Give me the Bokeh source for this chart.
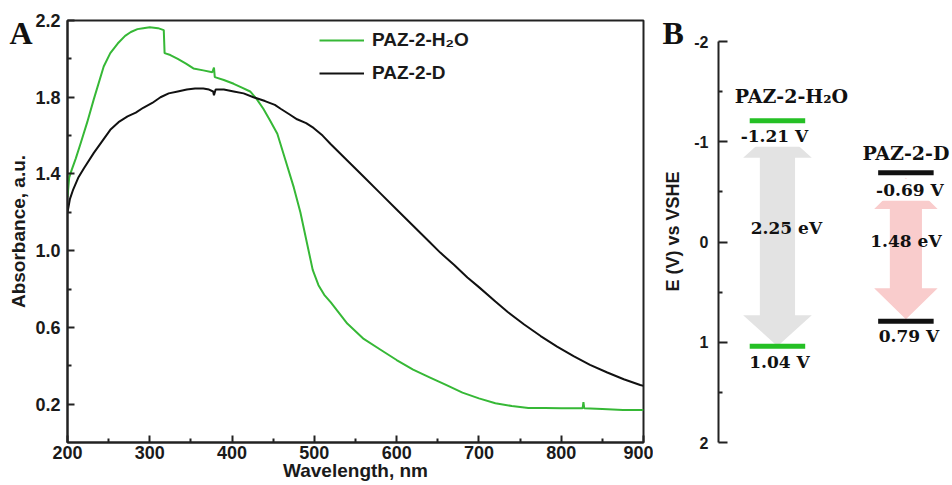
from bokeh.plotting import figure
from bokeh.models import Range1d, FixedTicker, Legend, LegendItem, Label, PrintfTickFormatter
from bokeh.layouts import row
from bokeh.embed import file_html
from bokeh.resources import INLINE

# ---------------- data: panel A (UV-vis absorbance) ----------------
wl_h2o = [200, 202, 205, 210, 216, 224, 232, 244, 252, 261, 270, 277, 285, 292, 300,
          310, 317, 318, 325, 334, 344, 353, 365, 376, 378, 379, 390, 402, 412, 422,
          430, 438, 446, 455, 465, 475, 483, 491, 498, 505, 512, 520, 540, 560, 580,
          600, 620, 640, 660, 680, 700, 720, 740, 760, 780, 800, 826, 827, 828, 850,
          875, 900]
abs_h2o = [1.28, 1.38, 1.42, 1.48, 1.56, 1.67, 1.79, 1.96, 2.03, 2.08, 2.12, 2.14, 2.155, 2.16, 2.165,
           2.16, 2.15, 2.03, 2.02, 2.00, 1.975, 1.95, 1.94, 1.93, 1.955, 1.905, 1.89, 1.87, 1.85, 1.83,
           1.79, 1.74, 1.68, 1.61, 1.47, 1.33, 1.20, 1.04, 0.90, 0.82, 0.77, 0.73, 0.62, 0.54, 0.485,
           0.43, 0.38, 0.34, 0.30, 0.26, 0.23, 0.205, 0.19, 0.18, 0.18, 0.178, 0.178, 0.21, 0.178, 0.175,
           0.17, 0.17]

wl_d = [200, 203, 207, 213, 220, 232, 242, 252, 262, 273, 283, 292, 303, 313, 323,
        334, 345, 355, 365, 372, 377, 378, 380, 390, 402, 414, 426, 440, 452, 459,
        470, 479, 490, 499, 510, 520, 540, 560, 580, 600, 620, 640, 653, 670, 686,
        700, 720, 735, 755, 775, 795, 815, 835, 856, 876, 896, 900]
abs_d = [1.20, 1.27, 1.32, 1.38, 1.43, 1.51, 1.57, 1.63, 1.67, 1.70, 1.72, 1.745, 1.77, 1.80, 1.82,
         1.83, 1.84, 1.845, 1.845, 1.84, 1.83, 1.81, 1.84, 1.84, 1.83, 1.82, 1.80, 1.78, 1.76, 1.74,
         1.71, 1.685, 1.665, 1.64, 1.60, 1.555, 1.47, 1.385, 1.30, 1.215, 1.13, 1.045, 0.99, 0.925, 0.86,
         0.81, 0.735, 0.68, 0.615, 0.555, 0.50, 0.45, 0.405, 0.365, 0.33, 0.30, 0.295]

x_ticks = [200, 300, 400, 500, 600, 700, 800, 900]
x_minor = [250, 350, 450, 550, 650, 750, 850]
y_ticks = [0.2, 0.6, 1.0, 1.4, 1.8, 2.2]
y_minor = [0.4, 0.8, 1.2, 1.6, 2.0]
series_names = ["PAZ-2-H\u2082O", "PAZ-2-D"]

# ---------------- data: panel B (band positions) ----------------
materials = ["PAZ-2-H\u2082O", "PAZ-2-D"]
cb_levels = [-1.21, -0.69]
vb_levels = [1.04, 0.79]
band_gaps = [2.25, 1.48]
e_ticks = [-2, -1, 0, 1, 2]
e_minor = [-1.5, -0.5, 0.5, 1.5]

# ---------------- styles ----------------
SANS = "Liberation Sans"
SERIF = "DejaVu Serif"
LETTER = "Liberation Serif"
INK = "#1a1a1a"
GREEN_LINE = "#36b836"
GREEN_BAR = "#25c025"
ARROW_COLORS = ["#e3e3e3", "#f9cccc"]
BAR_COLORS = [GREEN_BAR, "#111111"]

H = 484
TOP = 20
BOTTOM = 42


def style_axis(ax, tick_size, label_size):
    ax.axis_line_width = 2
    ax.axis_line_color = "#222222"
    ax.major_tick_line_width = 2
    ax.minor_tick_line_width = 2
    ax.major_tick_line_color = "#222222"
    ax.minor_tick_line_color = "#222222"
    ax.major_tick_out = 0
    ax.minor_tick_out = 0
    ax.major_label_text_font = SANS
    ax.major_label_text_font_style = "bold"
    ax.major_label_text_font_size = tick_size
    ax.major_label_text_color = INK
    ax.axis_label_text_font = SANS
    ax.axis_label_text_font_style = "bold"
    ax.axis_label_text_font_size = label_size
    ax.axis_label_text_color = INK


def panel_letter(p, letter, offset):
    p.title.text = letter
    p.title.align = "left"
    p.title.vertical_align = "bottom"
    p.title.offset = offset
    p.title.standoff = -60
    p.title.text_font = LETTER
    p.title.text_font_style = "bold"
    p.title.text_font_size = "32px"
    p.title.text_color = "#111111"


# ================= Panel A =================
pa = figure(width=653, height=H, x_range=Range1d(200, 900), y_range=Range1d(0, 2.2),
            output_backend="svg", toolbar_location=None,
            min_border_left=67, min_border_right=10, min_border_top=TOP, min_border_bottom=BOTTOM)
pa.grid.visible = False
pa.outline_line_color = "#222222"
pa.outline_line_width = 2
pa.outline_line_alpha = 1.0

r_h = pa.line(wl_h2o, abs_h2o, line_color=GREEN_LINE, line_width=2)
r_d = pa.line(wl_d, abs_d, line_color="#111111", line_width=2)

pa.xaxis.ticker = FixedTicker(ticks=x_ticks, minor_ticks=x_minor)
pa.yaxis.ticker = FixedTicker(ticks=y_ticks, minor_ticks=y_minor)
pa.yaxis.formatter = PrintfTickFormatter(format="%.1f")
for ax in (pa.xaxis[0], pa.yaxis[0]):
    style_axis(ax, "18px", "19px")
    ax.major_tick_in = 7
    ax.minor_tick_in = 4
pa.xaxis.axis_label = "Wavelength, nm"
pa.yaxis.axis_label = "Absorbance, a.u."
pa.xaxis.major_label_standoff = 3
pa.xaxis.axis_label_standoff = -2
pa.yaxis.major_label_standoff = 7
pa.yaxis.axis_label_standoff = 3

legend = Legend(items=[LegendItem(label=series_names[0], renderers=[r_h]),
                       LegendItem(label=series_names[1], renderers=[r_d])],
                location=(252, 358), border_line_color=None, background_fill_alpha=0,
                label_text_font=SANS, label_text_font_style="bold", label_text_font_size="19px",
                label_text_color=INK, glyph_width=45, glyph_height=20, label_height=20,
                spacing=11, padding=10, margin=0, label_standoff=8)
pa.add_layout(legend)
panel_letter(pa, "A", -58)

# ================= Panel B =================
pb = figure(width=298, height=H, x_range=Range1d(0.541, 2.355), y_range=Range1d(2.0, -2.21),
            output_backend="svg", toolbar_location=None,
            min_border_left=65, min_border_right=0, min_border_top=TOP, min_border_bottom=BOTTOM)
pb.grid.visible = False
pb.outline_line_color = None
pb.xaxis.visible = False
pb.yaxis.ticker = FixedTicker(ticks=e_ticks, minor_ticks=e_minor)
pb.yaxis.formatter = PrintfTickFormatter(format="%d")
pb.yaxis.bounds = (e_ticks[0], e_ticks[-1])
style_axis(pb.yaxis[0], "16px", "18px")
pb.yaxis.major_tick_in = 9
pb.yaxis.minor_tick_in = 4
pb.yaxis.major_label_standoff = 10
pb.yaxis.axis_label_standoff = 8
pb.yaxis.axis_label = "E (V) vs VSHE"
panel_letter(pb, "B", -56)

centers = [i + 1 for i in range(len(materials))]

# double-headed arrows spanning each band gap
head_len = 0.31
head_half = [0.267, 0.247]
shaft_half = [0.137, 0.125]
top_inset = [0.06, 0.05]
bot_inset = [0.0, 0.02]
xs, ys = [], []
for i, c in enumerate(centers):
    ya = cb_levels[i] + top_inset[i]
    yb = vb_levels[i] - bot_inset[i]
    hw, sw = head_half[i], shaft_half[i]
    xs.append([c, c + hw, c + sw, c + sw, c + hw, c, c - hw, c - sw, c - sw, c - hw])
    ys.append([ya, ya + head_len, ya + head_len, yb - head_len, yb - head_len, yb,
               yb - head_len, yb - head_len, ya + head_len, ya + head_len])
pb.patches(xs, ys, fill_color=ARROW_COLORS, line_color=None)

# band edge bars
bar_half = 0.216
for lv in (cb_levels, vb_levels):
    pb.segment(x0=[c - bar_half for c in centers], x1=[c + bar_half for c in centers],
               y0=lv, y1=lv, line_color=BAR_COLORS, line_width=5)

name_dx = [14, 0]
name_dy = [25, 20]
cb_dx = [-3, 4]
cb_dy = [-15, -17]
vb_dx = [2, 3]
vb_dy = [-16, -15]
gap_dx = [9, 0]
gap_dy = [6, 6]

for i, c in enumerate(centers):
    pb.add_layout(Label(x=c, y=cb_levels[i], text=materials[i], x_offset=name_dx[i], y_offset=name_dy[i],
                        text_align="center", text_baseline="middle", text_font=SERIF,
                        text_font_style="bold", text_font_size="19px", text_color="#111111"))
    pb.add_layout(Label(x=c, y=cb_levels[i], text=f"{cb_levels[i]:.2f} V", x_offset=cb_dx[i],
                        y_offset=cb_dy[i], text_align="center", text_baseline="middle",
                        text_font=SERIF, text_font_style="bold", text_font_size="17px",
                        text_color="#111111", background_fill_color="white", padding=1))
    pb.add_layout(Label(x=c, y=vb_levels[i], text=f"{vb_levels[i]:.2f} V", x_offset=vb_dx[i],
                        y_offset=vb_dy[i], text_align="center", text_baseline="middle",
                        text_font=SERIF, text_font_style="bold", text_font_size="17px",
                        text_color="#111111"))
    pb.add_layout(Label(x=c, y=(cb_levels[i] + vb_levels[i]) / 2, text=f"{band_gaps[i]:.2f} eV",
                        x_offset=gap_dx[i], y_offset=gap_dy[i], text_align="center",
                        text_baseline="middle", text_font=SERIF, text_font_style="bold",
                        text_font_size="17px", text_color="#111111"))

layout = row(pa, pb)
open("out.html", "w").write(file_html(layout, INLINE))
